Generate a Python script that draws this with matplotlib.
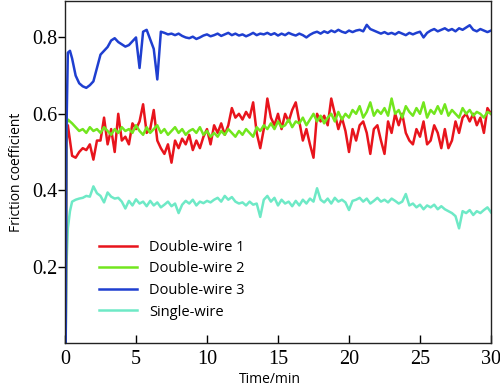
import numpy as np
import matplotlib
matplotlib.use("Agg")
import matplotlib.pyplot as plt

# tick numbers are serif in the reference, the words are sans
plt.rcParams["font.family"] = ["Liberation Serif", "DejaVu Serif"]
plt.rcParams["xtick.labelsize"] = 14.5
plt.rcParams["ytick.labelsize"] = 14.5

# === Data ===
# start of each run (the curves jump up from zero), then a 0.25 min grid
t_start = [0.05, 0.1, 0.2, 0.35]
t_grid = np.arange(0.5, 30.01, 0.25)
time_min = np.concatenate([t_start, t_grid])

dw1 = [0.0, 0.52, 0.57, 0.53,
       0.49, 0.485, 0.50, 0.51, 0.505, 0.52, 0.48, 0.53,
       0.53, 0.59, 0.52, 0.56, 0.50, 0.60, 0.53, 0.54,
       0.52, 0.575, 0.56, 0.58, 0.625, 0.55, 0.56, 0.61,
       0.53, 0.51, 0.495, 0.52, 0.472, 0.53, 0.51, 0.535,
       0.52, 0.545, 0.505, 0.53, 0.51, 0.54, 0.56, 0.52,
       0.57, 0.55, 0.575, 0.545, 0.57, 0.615, 0.59, 0.60,
       0.585, 0.605, 0.59, 0.63, 0.55, 0.51, 0.56, 0.64,
       0.59, 0.57, 0.60, 0.56, 0.60, 0.58, 0.61, 0.63,
       0.58, 0.53, 0.56, 0.52, 0.485, 0.60, 0.58, 0.595,
       0.57, 0.64, 0.60, 0.56, 0.59, 0.555, 0.50, 0.56,
       0.53, 0.57, 0.58, 0.55, 0.495, 0.56, 0.57, 0.53,
       0.495, 0.58, 0.55, 0.60, 0.57, 0.60, 0.55, 0.53,
       0.52, 0.56, 0.54, 0.58, 0.52, 0.53, 0.57, 0.55,
       0.51, 0.56, 0.51, 0.53, 0.58, 0.55, 0.59, 0.60,
       0.58, 0.60, 0.57, 0.59, 0.55, 0.615, 0.60]

dw2 = [0.0, 0.57, 0.585, 0.58,
       0.575, 0.565, 0.555, 0.56, 0.55, 0.565, 0.555, 0.56,
       0.55, 0.565, 0.555, 0.545, 0.56, 0.55, 0.565, 0.555,
       0.56, 0.55, 0.57, 0.555, 0.545, 0.565, 0.55, 0.56,
       0.57, 0.55, 0.56, 0.545, 0.555, 0.565, 0.55, 0.56,
       0.545, 0.555, 0.56, 0.55, 0.565, 0.545, 0.555, 0.54,
       0.55, 0.54, 0.555, 0.545, 0.56, 0.55, 0.54, 0.555,
       0.545, 0.56, 0.55, 0.54, 0.565, 0.555, 0.57, 0.56,
       0.575, 0.56, 0.58, 0.565, 0.57, 0.585, 0.565, 0.58,
       0.575, 0.59, 0.57, 0.585, 0.60, 0.58, 0.595, 0.575,
       0.59, 0.60, 0.58, 0.605, 0.585, 0.60, 0.59, 0.61,
       0.60, 0.62, 0.59, 0.605, 0.63, 0.595, 0.61, 0.60,
       0.615, 0.595, 0.64, 0.60, 0.61, 0.59, 0.62, 0.605,
       0.595, 0.615, 0.60, 0.63, 0.59, 0.61, 0.60, 0.62,
       0.60, 0.625, 0.595, 0.61, 0.60, 0.59, 0.615, 0.60,
       0.61, 0.595, 0.605, 0.60, 0.59, 0.605, 0.60]

dw3 = [0.0, 0.55, 0.76, 0.765,
       0.745, 0.70, 0.68, 0.672, 0.668, 0.675, 0.685, 0.72,
       0.755, 0.765, 0.775, 0.792, 0.798, 0.788, 0.782, 0.776,
       0.78, 0.79, 0.80, 0.72, 0.815, 0.82, 0.795, 0.77,
       0.69, 0.815, 0.812, 0.808, 0.81, 0.806, 0.81, 0.804,
       0.80, 0.798, 0.802, 0.796, 0.80, 0.805, 0.808, 0.803,
       0.806, 0.81, 0.804, 0.808, 0.812, 0.806, 0.81, 0.805,
       0.808, 0.803, 0.807, 0.812, 0.806, 0.81, 0.808, 0.812,
       0.807, 0.811, 0.805, 0.81, 0.806, 0.812, 0.808, 0.805,
       0.81, 0.806, 0.80, 0.807, 0.812, 0.815, 0.81, 0.816,
       0.812, 0.818, 0.814, 0.82, 0.815, 0.812, 0.818, 0.814,
       0.818, 0.82, 0.816, 0.833, 0.822, 0.818, 0.814, 0.81,
       0.814, 0.809, 0.812, 0.808, 0.814, 0.81, 0.806, 0.812,
       0.808, 0.812, 0.815, 0.80, 0.812, 0.818, 0.822, 0.816,
       0.82, 0.824, 0.818, 0.822, 0.816, 0.824, 0.82, 0.826,
       0.832, 0.82, 0.816, 0.822, 0.818, 0.814, 0.818]

single = [0.0, 0.2, 0.3, 0.345,
          0.37, 0.375, 0.378, 0.38, 0.385, 0.383, 0.41, 0.392,
          0.385, 0.368, 0.394, 0.383, 0.378, 0.38, 0.37, 0.352,
          0.372, 0.36, 0.376, 0.365, 0.37, 0.358, 0.372, 0.36,
          0.368, 0.355, 0.362, 0.37, 0.358, 0.365, 0.34, 0.362,
          0.372, 0.365, 0.375, 0.36, 0.37, 0.366, 0.372, 0.368,
          0.375, 0.38, 0.37, 0.385, 0.375, 0.382, 0.37, 0.365,
          0.368, 0.36, 0.37, 0.362, 0.365, 0.33, 0.375, 0.385,
          0.37, 0.38, 0.36, 0.375, 0.365, 0.37, 0.358, 0.372,
          0.36, 0.375, 0.365, 0.378, 0.37, 0.405, 0.375, 0.368,
          0.378, 0.365, 0.38, 0.37, 0.375, 0.368, 0.348, 0.372,
          0.375, 0.38, 0.37, 0.378, 0.365, 0.372, 0.38, 0.37,
          0.375, 0.368, 0.378, 0.372, 0.365, 0.37, 0.39, 0.36,
          0.365, 0.355, 0.362, 0.35, 0.36, 0.355, 0.362, 0.35,
          0.358, 0.35, 0.345, 0.34, 0.332, 0.30, 0.345, 0.34,
          0.348, 0.335, 0.345, 0.34, 0.348, 0.355, 0.342]

labels = ["Double-wire 1", "Double-wire 2", "Double-wire 3", "Single-wire"]
colors = ["#e8141c", "#72e61e", "#1f3fd0", "#6ee9c6"]
x_ticks = [0, 5, 10, 15, 20, 25, 30]
y_ticks = [0.2, 0.4, 0.6, 0.8]

# === Figure ===
fig = plt.figure(figsize=(5.0, 3.91), dpi=100)
ax = fig.add_axes([0.13, 0.123, 0.852, 0.874])

series = [dw1, dw2, dw3, single]
# single-wire first, then red/green/blue so the overlap looks the same
for idx in [3, 0, 1, 2]:
    ax.plot(time_min, series[idx], color=colors[idx], lw=1.8, label=labels[idx])

ax.set_xlim(0, 30)
ax.set_ylim(0, 0.895)

ax.set_xticks(x_ticks)
ax.set_yticks(y_ticks)
ax.set_xticklabels([str(v) for v in x_ticks])
ax.set_yticklabels([f"{v:.1f}" for v in y_ticks])
ax.tick_params(axis="x", direction="in", length=6, width=1, pad=5)
ax.tick_params(axis="y", direction="out", length=5, width=1, pad=0.5)
for sp in ax.spines.values():
    sp.set_linewidth(1.0)
    sp.set_color("#222222")

sans = ["Open Sans", "DejaVu Sans"]
ax.set_xlabel("Time/min", family=sans, fontsize=10)
ax.xaxis.set_label_coords(0.482, -0.085)
ax.set_ylabel("Friction coefficient", family=sans, fontsize=10, labelpad=6)

handles, hl = ax.get_legend_handles_labels()
order = [hl.index(l) for l in labels]
leg = ax.legend([handles[i] for i in order], labels, loc="lower left",
                bbox_to_anchor=(0.05, 0.03), frameon=False,
                prop={"family": sans, "size": 10.5},
                handlelength=2.6, handletextpad=0.8, labelspacing=0.45)

fig.savefig("out.png", dpi=100)
